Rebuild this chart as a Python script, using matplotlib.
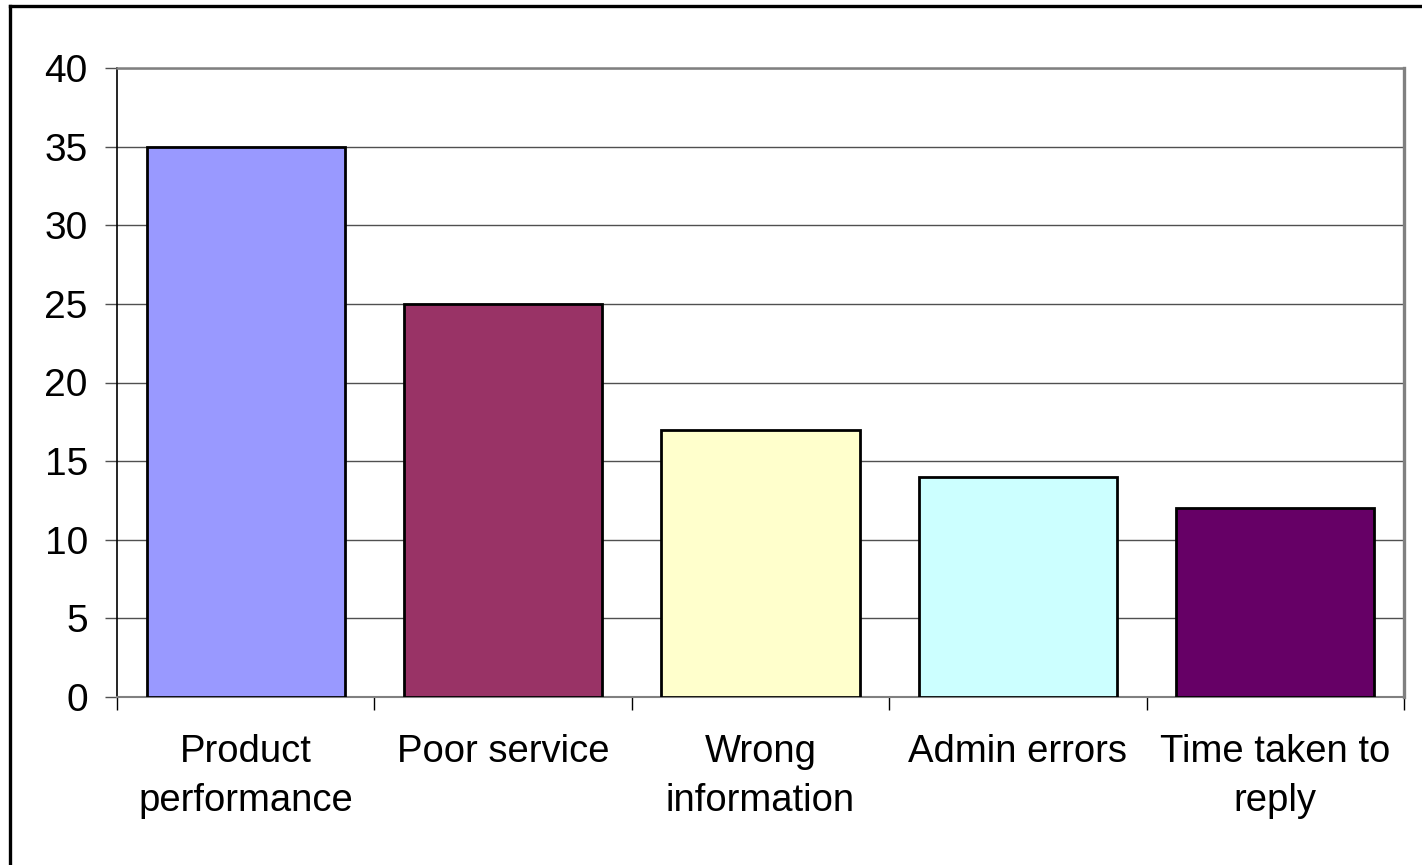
import matplotlib
matplotlib.use("Agg")
import matplotlib.pyplot as plt
from matplotlib.lines import Line2D
import numpy as np

categories = ["Product\nperformance", "Poor service", "Wrong\ninformation",
              "Admin errors", "Time taken to\nreply"]
values = [35, 25, 17, 14, 12]
colors = ["#9999FF", "#993366", "#FFFFCC", "#CCFFFF", "#660066"]
y_ticks = [0, 5, 10, 15, 20, 25, 30, 35, 40]

plt.rcParams["font.family"] = ["Liberation Sans", "DejaVu Sans"]

W, H = 1422, 865
fig = plt.figure(figsize=(W / 100, H / 100), dpi=100)
fig.patch.set_facecolor("white")

# Outer chart frame: only top and left edges are visible
fig.add_artist(Line2D([9.5 / W, 9.5 / W], [0, 1 - 6 / H], transform=fig.transFigure,
                      color="black", lw=2.4, solid_capstyle="projecting"))
fig.add_artist(Line2D([9.5 / W, 1], [1 - 6 / H, 1 - 6 / H], transform=fig.transFigure,
                      color="black", lw=2.4, solid_capstyle="projecting"))

left, right, top, bottom = 117, 1404, 68, 697
ax = fig.add_axes([left / W, 1 - bottom / H, (right - left) / W, (bottom - top) / H])

x = np.arange(len(categories))
ax.bar(x, values, width=0.77, color=colors, edgecolor="black", linewidth=2.0, zorder=3)

ax.set_xlim(-0.5, len(categories) - 0.5)
ax.set_ylim(0, 40)
ax.set_yticks(y_ticks)
ax.set_yticklabels([str(t) for t in y_ticks])

ax.yaxis.grid(True, color="#505050", linewidth=1.0, zorder=0)
ax.set_axisbelow(True)

# Category boundaries get the tick marks; labels sit on the centers
ax.set_xticks(np.arange(len(categories) + 1) - 0.5)
ax.set_xticklabels([""] * (len(categories) + 1))
ax.set_xticks(x, minor=True)
ax.set_xticklabels(categories, minor=True, fontsize=27.5, linespacing=1.45)
ax.tick_params(axis="x", which="major", direction="out", length=9, width=1.0, color="black")
ax.tick_params(axis="x", which="minor", length=0, pad=27)
ax.tick_params(axis="y", direction="out", length=9, width=1.0, color="#505050",
               labelsize=28, pad=12)

ax.spines["left"].set_color("black")
ax.spines["left"].set_linewidth(1.2)
ax.spines["bottom"].set_color("#808080")
ax.spines["bottom"].set_linewidth(1.5)
ax.spines["top"].set_color("#808080")
ax.spines["top"].set_linewidth(1.8)
ax.spines["right"].set_color("#808080")
ax.spines["right"].set_linewidth(2.4)

fig.savefig("out.png", dpi=100, facecolor="white")
